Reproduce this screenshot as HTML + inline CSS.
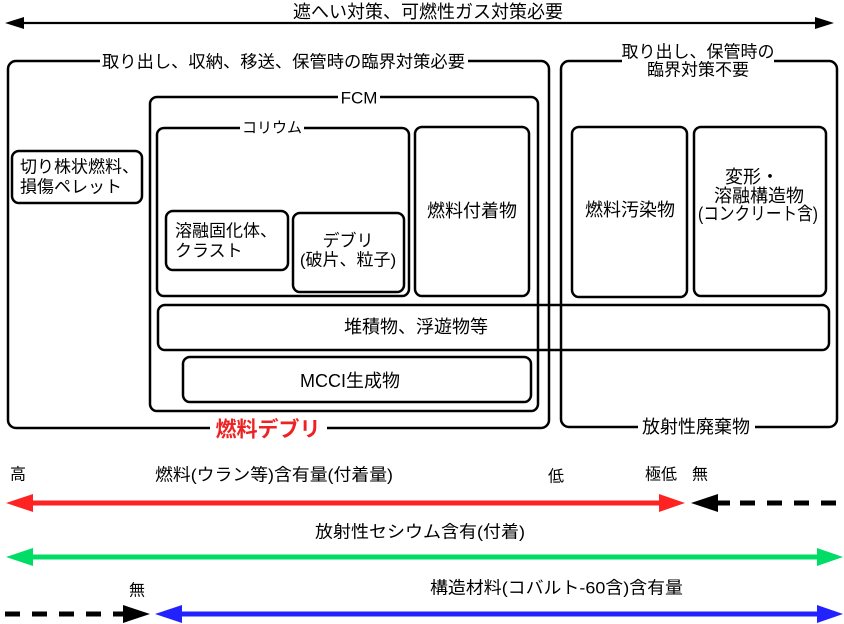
<!DOCTYPE html>
<html><head><meta charset="utf-8"><style>
html,body{margin:0;padding:0;background:#fff;}
svg{display:block;}
text{font-family:"Liberation Sans","Noto Sans CJK JP",sans-serif;fill:#000;}
</style></head><body>
<svg width="844" height="624" viewBox="0 0 844 624" xmlns="http://www.w3.org/2000/svg">
<!-- top arrow -->
<line x1="22" y1="23" x2="818" y2="23" stroke="#000" stroke-width="2.2"/>
<polygon points="5,23 24,17 24,29" fill="#000"/>
<polygon points="834,23 815,17 815,29" fill="#000"/>
<text x="428" y="12" font-size="18" text-anchor="middle" dominant-baseline="central">遮へい対策、可燃性ガス対策必要</text>

<g fill="none" stroke="#000" stroke-width="2.5">
<rect x="8" y="61" width="541" height="367" rx="8"/>
<rect x="561" y="61" width="276" height="366" rx="8"/>
<rect x="150" y="97" width="388" height="314" rx="7"/>
<rect x="157" y="128" width="252" height="168" rx="7"/>
<rect x="415" y="127" width="114" height="169" rx="7"/>
<rect x="166" y="211" width="122" height="59" rx="7"/>
<rect x="293" y="213" width="111" height="79" rx="7"/>
<rect x="12" y="151" width="130" height="52" rx="7"/>
<rect x="572" y="127" width="115" height="170" rx="7"/>
<rect x="694" y="127" width="132" height="169" rx="7"/>
<rect x="158" y="305" width="671" height="45" rx="7"/>
<rect x="183" y="357" width="348" height="45" rx="7"/>
</g>

<!-- labels with white bg -->
<rect x="100" y="52" width="368" height="18" fill="#fff"/>
<text x="102" y="62" font-size="17" textLength="363" lengthAdjust="spacingAndGlyphs" dominant-baseline="central">取り出し、収納、移送、保管時の臨界対策必要</text>

<rect x="622" y="42" width="152" height="38" fill="#fff"/>
<text x="698" y="52" font-size="17" text-anchor="middle" dominant-baseline="central">取り出し、保管時の</text>
<text x="698" y="70" font-size="17" text-anchor="middle" dominant-baseline="central">臨界対策不要</text>

<rect x="338" y="89" width="42" height="16" fill="#fff"/>
<text x="359" y="98" font-size="17" text-anchor="middle" dominant-baseline="central">FCM</text>

<rect x="240" y="120" width="64" height="16" fill="#fff"/>
<text x="272" y="128" font-size="15" text-anchor="middle" dominant-baseline="central">コリウム</text>

<rect x="210" y="418" width="117" height="22" fill="#fff"/>
<text x="268" y="430" font-size="21" font-weight="bold" text-anchor="middle" dominant-baseline="central" style="fill:#ee2222">燃料デブリ</text>

<rect x="638" y="418" width="117" height="18" fill="#fff"/>
<text x="696" y="427" font-size="18" text-anchor="middle" dominant-baseline="central">放射性廃棄物</text>

<!-- box texts -->
<text x="20" y="167" font-size="17" dominant-baseline="central">切り株状燃料、</text>
<text x="20" y="187" font-size="17" dominant-baseline="central">損傷ペレット</text>

<text x="175" y="231" font-size="17" dominant-baseline="central">溶融固化体、</text>
<text x="175" y="251" font-size="17" dominant-baseline="central">クラスト</text>

<text x="348" y="241" font-size="17" text-anchor="middle" dominant-baseline="central">デブリ</text>
<text x="348" y="260" font-size="17" text-anchor="middle" dominant-baseline="central">(破片、粒子)</text>

<text x="472" y="211" font-size="18" text-anchor="middle" dominant-baseline="central">燃料付着物</text>
<text x="630" y="210" font-size="18" text-anchor="middle" dominant-baseline="central">燃料汚染物</text>

<text x="752" y="177" font-size="18" text-anchor="middle" dominant-baseline="central">変形・</text>
<text x="759" y="196" font-size="18" text-anchor="middle" dominant-baseline="central">溶融構造物</text>
<text x="698" y="214" font-size="18" textLength="120" lengthAdjust="spacingAndGlyphs" dominant-baseline="central">(コンクリート含)</text>

<text x="416" y="327" font-size="18" text-anchor="middle" dominant-baseline="central">堆積物、浮遊物等</text>
<text x="350" y="381" font-size="18" text-anchor="middle" dominant-baseline="central">MCCI生成物</text>

<!-- bottom scale texts -->
<text x="10" y="475" font-size="16" dominant-baseline="central">高</text>
<text x="155" y="475" font-size="17" textLength="238" lengthAdjust="spacingAndGlyphs" dominant-baseline="central">燃料(ウラン等)含有量(付着量)</text>
<text x="548" y="477" font-size="16" dominant-baseline="central">低</text>
<text x="645" y="475" font-size="16" dominant-baseline="central">極低</text>
<text x="692" y="475" font-size="16" dominant-baseline="central">無</text>

<!-- red arrow -->
<line x1="30" y1="503" x2="662" y2="503" stroke="#ff2222" stroke-width="5"/>
<polygon points="6,503 33,494 33,512" fill="#ff2222"/>
<polygon points="685,503 659,494 659,512" fill="#ff2222"/>
<!-- black dashed right -->
<polygon points="691,503 718,494 718,512" fill="#000"/>
<line x1="716" y1="503" x2="838" y2="503" stroke="#000" stroke-width="5" stroke-dasharray="14 10 15 12 15 12 15 12 15 12"/>

<text x="315" y="532" font-size="17" textLength="210" lengthAdjust="spacingAndGlyphs" dominant-baseline="central">放射性セシウム含有(付着)</text>

<!-- green arrow -->
<line x1="30" y1="557" x2="820" y2="557" stroke="#00dd66" stroke-width="5"/>
<polygon points="6,557 33,548 33,566" fill="#00dd66"/>
<polygon points="843,557 817,548 817,566" fill="#00dd66"/>

<text x="129" y="591" font-size="16" dominant-baseline="central">無</text>
<text x="430" y="588" font-size="17" textLength="253" lengthAdjust="spacingAndGlyphs" dominant-baseline="central">構造材料(コバルト-60含)含有量</text>

<!-- black dashed left -->
<line x1="5" y1="614" x2="125" y2="614" stroke="#000" stroke-width="5" stroke-dasharray="15 12"/>
<polygon points="150,614 123,605 123,623" fill="#000"/>
<!-- blue arrow -->
<line x1="178" y1="614" x2="820" y2="614" stroke="#2222ff" stroke-width="5"/>
<polygon points="155,614 182,605 182,623" fill="#2222ff"/>
<polygon points="843,614 817,605 817,623" fill="#2222ff"/>
</svg>
</body></html>
